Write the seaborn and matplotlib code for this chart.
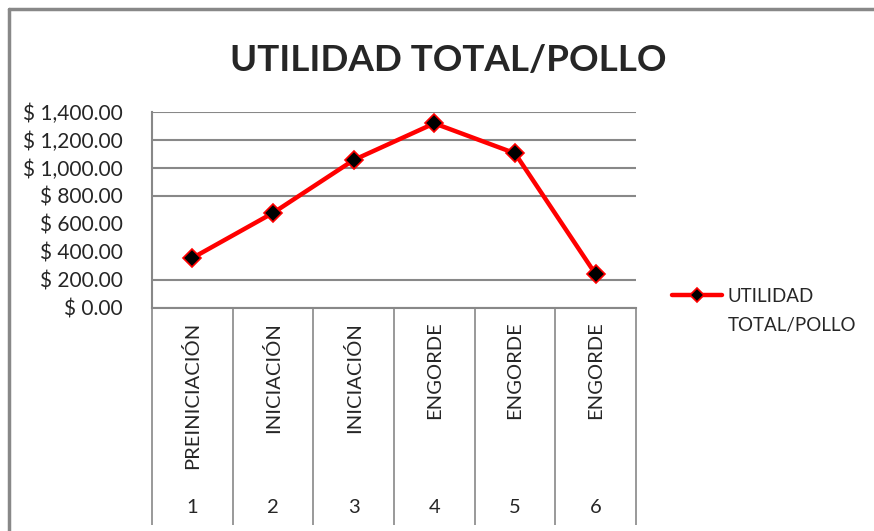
import matplotlib.pyplot as plt
import matplotlib.lines as mlines
import seaborn as sns
import numpy as np

# data
etapas = ["PREINICIACIÓN", "INICIACIÓN", "INICIACIÓN", "ENGORDE", "ENGORDE", "ENGORDE"]
semanas = [1, 2, 3, 4, 5, 6]
utilidad = [357, 679, 1057, 1319, 1105, 241]
y_ticks = [0, 200, 400, 600, 800, 1000, 1200, 1400]
# the 400 and 600 lines do not show in the reference
lineas = [0, 200, 800, 1000, 1200, 1400]
serie = ["UTILIDAD", "TOTAL/POLLO"]

sns.set_style("white")
plt.rcParams["font.family"] = ["Lato", "DejaVu Sans"]
gris = "#888888"

fig = plt.figure(figsize=(8.74, 5.31), dpi=100)
ax = fig.add_axes([152 / 874, 1 - 308 / 531, 484 / 874, 196 / 531])

for v in lineas:
    ax.axhline(v, color=gris, lw=1.5, zorder=0)

sns.lineplot(x=semanas, y=utilidad, ax=ax, color="red", lw=3.2,
             marker="D", markersize=9, markerfacecolor="black",
             markeredgecolor="red", markeredgewidth=1.2, label=serie[0])

ax.set_xlim(0.5, 6.5)
ax.set_ylim(0, 1400)
ax.set_yticks(y_ticks)
ax.set_yticklabels([f"$ {v:,.2f}" for v in y_ticks], fontsize=15)
ax.set_yticks(lineas, minor=True)
ax.set_xticks([])
ax.tick_params(axis="y", which="major", left=True, length=0, pad=21)
ax.tick_params(axis="y", which="minor", left=True, length=8, width=1.5, color=gris)
for s in ["top", "right"]:
    ax.spines[s].set_visible(False)
ax.spines["left"].set_color(gris)
ax.spines["left"].set_linewidth(1.5)
ax.spines["bottom"].set_color(gris)
ax.spines["bottom"].set_linewidth(1.5)

# multi-level category axis
tr = ax.get_xaxis_transform()
bordes = np.arange(0.5, len(semanas) + 1, 1)
ax.vlines(bordes, -1.105, 0, transform=tr, color=gris, lw=1.2, clip_on=False)
for x, et, n in zip(semanas, etapas, semanas):
    ax.text(x, -0.07, et, transform=tr, rotation=90, ha="center", va="top",
            fontsize=14.5, clip_on=False)
    ax.text(x, -1.02, str(n), transform=tr, ha="center", va="center",
            fontsize=14.5, clip_on=False)

ax.set_title("UTILIDAD TOTAL/POLLO", fontsize=26.5, fontweight="bold",
             x=(448 - 152) / 484, y=1.22, va="center")

leg = ax.legend(loc="center left", bbox_to_anchor=(672 / 874, 1 - 296 / 531),
                bbox_transform=fig.transFigure, frameon=False, fontsize=13.5,
                handlelength=2.65, handletextpad=0.3, borderpad=0,
                borderaxespad=0, markerscale=0.8)
fig.text(728 / 874, 1 - 325 / 531, serie[1], fontsize=13.5, va="center")

# outer chart border (only top and left are inside the crop)
fig.add_artist(mlines.Line2D([9 / 874, 1], [1 - 9 / 531] * 2, color=gris, lw=2.5))
fig.add_artist(mlines.Line2D([9 / 874] * 2, [0, 1 - 9 / 531], color=gris, lw=2.5))

plt.savefig("out.png", dpi=100)
